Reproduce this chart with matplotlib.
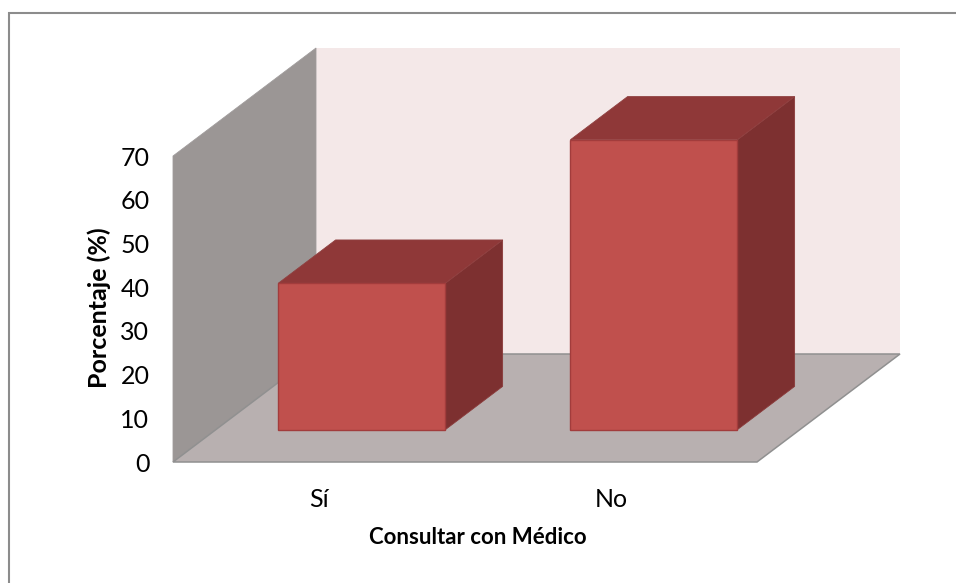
import matplotlib
matplotlib.use("Agg")
import matplotlib.pyplot as plt
from matplotlib.lines import Line2D
from matplotlib.patches import Polygon

categories = ["Sí", "No"]
percentages = [33.5, 66.3]
y_ticks = [0, 10, 20, 30, 40, 50, 60, 70]
y_label = "Porcentaje (%)"
x_label = "Consultar con Médico"

plt.rcParams["font.family"] = ["Lato", "DejaVu Sans"]

W, H = 956, 583
fig = plt.figure(figsize=(W / 100, H / 100), dpi=100, facecolor="white")

# Front plane of the plot box, in pixels
left, right, bottom, top = 173, 757, 462, 156
ax = fig.add_axes([left / W, 1 - bottom / H, (right - left) / W, (bottom - top) / H])
ax.set_xlim(-0.5, 1.5)
ax.set_ylim(0, 70)
ax.patch.set_visible(False)
for spine in ax.spines.values():
    spine.set_visible(False)

# Oblique projection: one full unit of depth moves this far in axis units
skew_x = 143 / 292
skew_y = 108 / (306 / 70)


def project(x, y, d):
    return (x + d * skew_x, y + d * skew_y)


def face(corners, **style):
    ax.add_patch(Polygon([project(*c) for c in corners], closed=True,
                         clip_on=False, **style))


x0, x1 = ax.get_xlim()
y0, y1 = ax.get_ylim()

# Back wall, side wall and floor
face([(x0, y0, 1), (x1, y0, 1), (x1, y1, 1), (x0, y1, 1)],
     facecolor="#f4e8e8", edgecolor="none", zorder=1)
face([(x0, y0, 0), (x0, y0, 1), (x0, y1, 1), (x0, y1, 0)],
     facecolor="#9b9695", edgecolor="#a09c9c", linewidth=0.6, zorder=2)
face([(x0, y0, 0), (x1, y0, 0), (x1, y0, 1), (x0, y0, 1)],
     facecolor="#b8b0b0", edgecolor="#909090", linewidth=1.1, zorder=3)

# Bars sit inside the box: 0.3 to 0.7 of the depth, 0.572 of a category wide
bar_half = 0.286
d_front, d_back = 0.30, 0.70
for i, value in enumerate(percentages):
    xl, xr = i - bar_half, i + bar_half
    face([(xr, 0, d_front), (xr, 0, d_back), (xr, value, d_back), (xr, value, d_front)],
         facecolor="#7d3030", edgecolor="#8a3a3a", linewidth=0.6, zorder=4)
    face([(xl, value, d_front), (xr, value, d_front), (xr, value, d_back), (xl, value, d_back)],
         facecolor="#8f3838", edgecolor="#8f4040", linewidth=0.6, zorder=5)
    face([(xl, 0, d_front), (xr, 0, d_front), (xr, value, d_front), (xl, value, d_front)],
         facecolor="#c0504d", edgecolor="#a23c3c", linewidth=1.0, zorder=6)

ax.set_yticks(y_ticks)
ax.set_xticks(range(len(categories)), categories)
ax.tick_params(axis="both", length=0, labelsize=18, labelcolor="black")
ax.tick_params(axis="y", pad=17)
ax.tick_params(axis="x", pad=19)

ax.set_ylabel(y_label, fontsize=18, fontweight="bold")
ax.set_xlabel(x_label, fontsize=16, fontweight="bold")
ax.yaxis.set_label_coords(-0.1055, 0.505)
ax.xaxis.set_label_coords(0.522, -0.212)

# Frame of the chart area: only its top and left edges are in view
frame = dict(color="#8c8c8c", linewidth=1.5, transform=fig.transFigure, solid_capstyle="butt")
fig.add_artist(Line2D([8 / W, 1], [1 - 13 / H, 1 - 13 / H], **frame))
fig.add_artist(Line2D([9 / W, 9 / W], [1 - 12 / H, 0], **frame))

fig.savefig("out.png", dpi=100, facecolor="white")
